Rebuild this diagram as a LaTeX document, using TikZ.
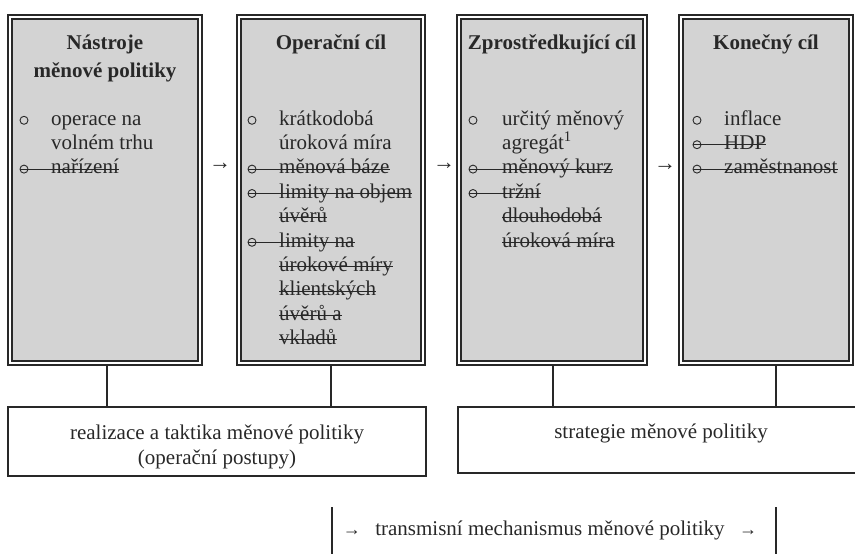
\documentclass[tikz,border=0pt]{standalone}
\usepackage{fontspec}
\setmainfont{Liberation Serif}
\usetikzlibrary{calc}
\definecolor{boxgray}{RGB}{211,211,211}
\definecolor{ink}{RGB}{40,40,40}
\begin{document}
\begin{tikzpicture}[x=1pt,y=-1pt,
  goal/.style={draw=ink, line width=1.3pt, double=white, double distance=2.7pt,
    fill=boxgray, inner sep=0pt, minimum width=#1, minimum height=346pt},
  ttl/.style={anchor=base, inner sep=0pt, text=ink, font=\fontsize{21}{24}\bfseries\selectfont},
  txt/.style={anchor=base west, inner sep=0pt, text=ink, font=\fontsize{21}{24}\selectfont},
  ctxt/.style={anchor=base, inner sep=0pt, text=ink, font=\fontsize{21}{24}\selectfont},
  bul/.style={circle, draw=ink, line width=0.9pt, minimum size=8pt, inner sep=0pt},
  strk/.style={draw=ink, line width=1pt},
  conn/.style={draw=ink, line width=1.4pt},
  lowbox/.style={draw=ink, line width=1.5pt, inner sep=0pt},
  arr/.style={inner sep=0pt, text=ink, font=\fontsize{22}{22}\selectfont},
  sarr/.style={inner sep=0pt, text=ink, font=\fontsize{18}{18}\selectfont}
]
\useasboundingbox (0,0) rectangle (855,554);

% goal boxes
\node[goal=190] (g1) at (105,190) {};
\node[goal=184] (g2) at (331,190) {};
\node[goal=186] (g3) at (552,190) {};
\node[goal=170] (g4) at (766,190) {};

% titles
\node[ttl] (t1a) at (105,49) {Nástroje};
\node[ttl] (t1b) at (105,77) {měnové politiky};
\node[ttl] (t2) at (331,49) {Operační cíl};
\node[ttl] (t3) at (552,49) {Zprostředkující cíl};
\node[ttl] (t4) at (766,49) {Konečný cíl};

% box 1 items
\node[bul] (b1a) at (24,120.3) {};
\node[txt] (x1a) at (51,125) {operace na};
\node[txt] (x1b) at (51,149.4) {volném trhu};
\node[bul] (b1c) at (24,169.1) {};
\node[txt] (x1c) at (51,173.8) {nařízení};
\draw[strk] (b1c.west) -- ([yshift=4.7pt]x1c.base east);

% box 2 items
\node[bul] (b2a) at (252,120.3) {};
\node[txt] (x2a) at (279,125) {krátkodobá};
\node[txt] (x2b) at (279,149.4) {úroková míra};
\node[bul] (b2c) at (252,169.1) {};
\node[txt] (x2c) at (279,173.8) {měnová báze};
\node[bul] (b2d) at (252,193.5) {};
\node[txt] (x2d) at (279,198.2) {limity na objem};
\node[txt] (x2e) at (279,222.6) {úvěrů};
\node[bul] (b2f) at (252,242.3) {};
\node[txt] (x2f) at (279,247) {limity na};
\node[txt] (x2g) at (279,271.4) {úrokové míry};
\node[txt] (x2h) at (279,295.8) {klientských};
\node[txt] (x2i) at (279,320.2) {úvěrů a};
\node[txt] (x2j) at (279,344.6) {vkladů};
\draw[strk] (b2c.west) -- ([yshift=4.7pt]x2c.base east);
\draw[strk] (b2d.west) -- ([yshift=4.7pt]x2d.base east);
\draw[strk] ([yshift=4.7pt]x2e.base west) -- ([yshift=4.7pt]x2e.base east);
\draw[strk] (b2f.west) -- ([yshift=4.7pt]x2f.base east);
\draw[strk] ([yshift=4.7pt]x2g.base west) -- ([yshift=4.7pt]x2g.base east);
\draw[strk] ([yshift=4.7pt]x2h.base west) -- ([yshift=4.7pt]x2h.base east);
\draw[strk] ([yshift=4.7pt]x2i.base west) -- ([yshift=4.7pt]x2i.base east);
\draw[strk] ([yshift=4.7pt]x2j.base west) -- ([yshift=4.7pt]x2j.base east);

% box 3 items
\node[bul] (b3a) at (473,120.3) {};
\node[txt] (x3a) at (502,125) {určitý měnový};
\node[txt] (x3b) at (502,149.4) {agregát\textsuperscript{1}};
\node[bul] (b3c) at (473,169.1) {};
\node[txt] (x3c) at (502,173.8) {měnový kurz};
\node[bul] (b3d) at (473,193.5) {};
\node[txt] (x3d) at (502,198.2) {tržní};
\node[txt] (x3e) at (502,222.6) {dlouhodobá};
\node[txt] (x3f) at (502,247) {úroková míra};
\draw[strk] (b3c.west) -- ([yshift=4.7pt]x3c.base east);
\draw[strk] (b3d.west) -- ([yshift=4.7pt]x3d.base east);
\draw[strk] ([yshift=4.7pt]x3e.base west) -- ([yshift=4.7pt]x3e.base east);
\draw[strk] ([yshift=4.7pt]x3f.base west) -- ([yshift=4.7pt]x3f.base east);

% box 4 items
\node[bul] (b4a) at (697,120.3) {};
\node[txt] (x4a) at (724,125) {inflace};
\node[bul] (b4b) at (697,144.7) {};
\node[txt] (x4b) at (724,149.4) {HDP};
\node[bul] (b4c) at (697,169.1) {};
\node[txt] (x4c) at (724,173.8) {zaměstnanost};
\draw[strk] (b4b.west) -- ([yshift=4.7pt]x4b.base east);
\draw[strk] (b4c.west) -- ([yshift=4.7pt]x4c.base east);

% arrows between boxes
\node[arr] (a12) at (220,166) {→};
\node[arr] (a23) at (444,166) {→};
\node[arr] (a34) at (665,167) {→};

% lower boxes
\node[lowbox, minimum width=418pt, minimum height=69pt] (real) at (217,441.5) {};
\node[ctxt] (r1) at (217,439) {realizace a taktika měnové politiky};
\node[ctxt] (r2) at (217,464) {(operační postupy)};
\node[lowbox, minimum width=406pt, minimum height=66pt] (strat) at (661,440) {};
\node[ctxt] (s1) at (661,438) {strategie měnové politiky};

% connectors
\draw[conn] ([xshift=2pt,yshift=-2.6pt]g1.south) -- ([xshift=2pt]g1.south |- real.north);
\draw[conn] ([yshift=-2.6pt]g2.south) -- (g2.south |- real.north);
\draw[conn] ([xshift=1pt,yshift=-2.6pt]g3.south) -- ([xshift=1pt]g3.south |- strat.north);
\draw[conn] ([xshift=10pt,yshift=-2.6pt]g4.south) -- ([xshift=10pt]g4.south |- strat.north);

% transmission mechanism
\node[ctxt] (tm) at (550,535) {transmisní mechanismus měnové politiky};
\node[sarr, anchor=base east] (tmL) at ([xshift=-14pt]tm.base west) {→};
\node[sarr, anchor=base west] (tmR) at ([xshift=14pt]tm.base east) {→};
\coordinate (bL1) at (332,507);
\coordinate (bL2) at (332,556);
\coordinate (bR1) at (776,507);
\coordinate (bR2) at (776,556);
\draw[conn] (bL1) -- (bL2);
\draw[conn] (bR1) -- (bR2);
\end{tikzpicture}
\end{document}
